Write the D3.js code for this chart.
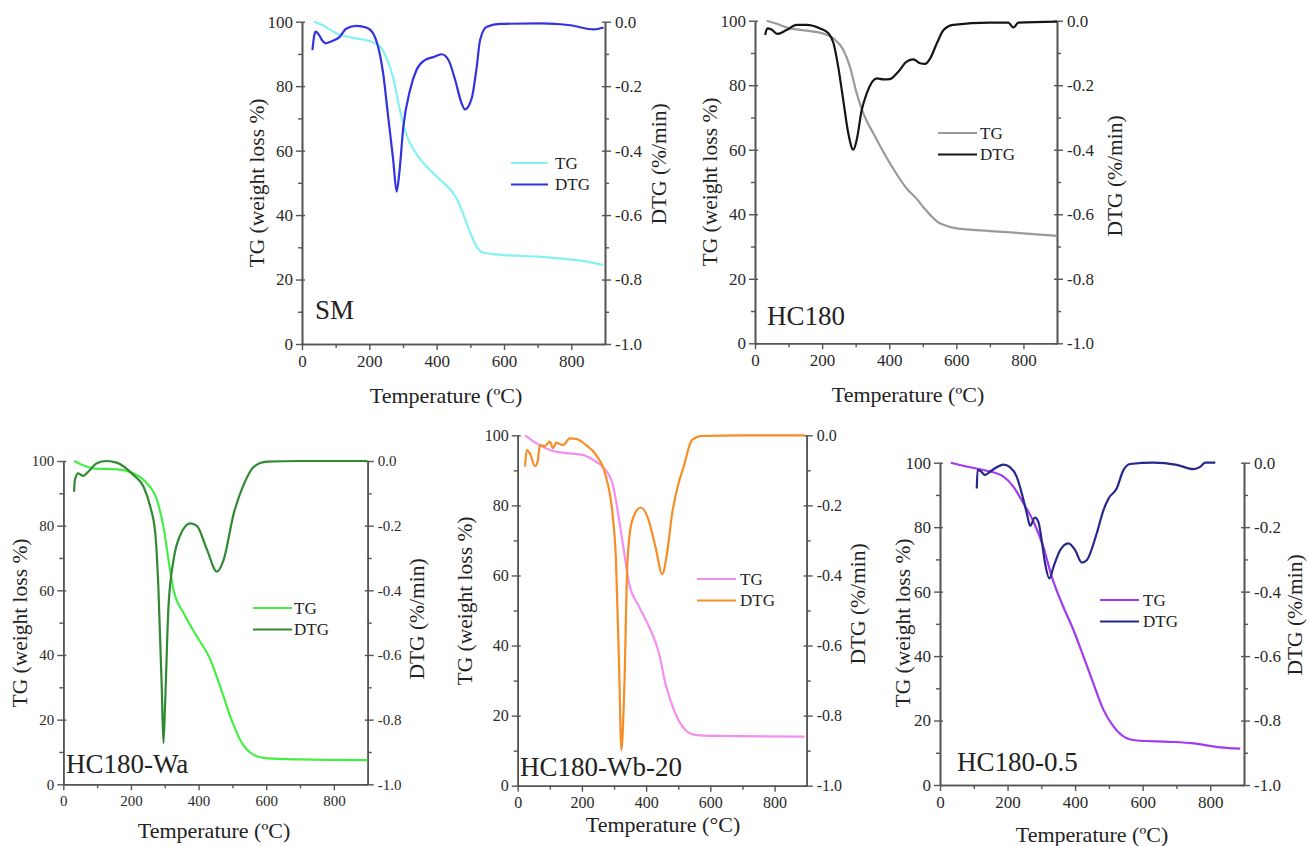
<!DOCTYPE html>
<html>
<head>
<meta charset="utf-8">
<title>TG / DTG curves</title>
<script src="https://d3js.org/d3.v7.min.js"></script>
<style>
  body { margin: 0; background: #fff; }
  svg { font-family: "Liberation Serif", "Times New Roman", serif; }
  .domain { stroke: #555; stroke-width: 1.6px; }
  .tick line { stroke: #555; stroke-width: 1.4px; }
  .tick text { fill: #2a2a2a; font-family: "Liberation Serif", serif; }
  .title { fill: #222; }
</style>
</head>
<body>
<div id="chart"></div>
<script>
// tick values shared by all panels
var xTicks = [0, 200, 400, 600, 800];
var xMinor = [100, 300, 500, 700];
var tgTicks = [0, 20, 40, 60, 80, 100];
var tgMinor = [10, 30, 50, 70, 90];
var dtgTicks = [-1.0, -0.8, -0.6, -0.4, -0.2, 0.0];
var dtgMinor = [-0.9, -0.7, -0.5, -0.3, -0.1];
var seriesNames = ["TG", "DTG"];
var sampleNames = ["SM", "HC180", "HC180-Wa", "HC180-Wb-20", "HC180-0.5"];

// [temperature, value]
var smTG = [[35,100],[60,99],[100,96.5],[150,95],[200,94],[230,92.5],[250,89],[270,83],[290,73],[310,65],[340,59],[380,54],[410,51],[440,48],[460,45],[480,40],[500,34.5],[520,30],[540,28.3],[600,27.6],[700,27.1],[800,26.2],[850,25.5],[895,24.5]];
var smDTG = [[31,-0.088],[36,-0.045],[41,-0.031],[50,-0.04],[60,-0.058],[70,-0.067],[90,-0.06],[112,-0.047],[132,-0.021],[162,-0.013],[191,-0.018],[211,-0.036],[226,-0.078],[241,-0.16],[256,-0.295],[271,-0.43],[281,-0.527],[289,-0.47],[301,-0.326],[321,-0.212],[340,-0.15],[365,-0.119],[390,-0.11],[415,-0.101],[435,-0.119],[455,-0.181],[474,-0.253],[484,-0.272],[504,-0.238],[519,-0.14],[529,-0.057],[549,-0.016],[589,-0.007],[708,-0.005],[767,-0.008],[797,-0.011],[867,-0.024],[896,-0.018]];

var hcTG = [[35,100],[60,99.2],[104,97.6],[154,96.9],[204,96],[234,94.5],[263,91],[283,85.7],[303,77.5],[323,71.3],[353,65],[402,55.8],[452,48],[480,45],[502,42.2],[525,39.5],[542,37.8],[560,36.8],[601,35.6],[700,34.8],[800,34.1],[900,33.3]];
var hcDTG = [[30,-0.044],[37,-0.024],[50,-0.028],[67,-0.041],[94,-0.029],[124,-0.013],[154,-0.013],[194,-0.024],[219,-0.039],[234,-0.07],[248,-0.143],[263,-0.246],[278,-0.349],[293,-0.4],[303,-0.37],[318,-0.277],[333,-0.225],[363,-0.179],[383,-0.182],[402,-0.181],[427,-0.158],[452,-0.127],[472,-0.12],[492,-0.132],[507,-0.134],[522,-0.117],[542,-0.07],[562,-0.029],[591,-0.013],[700,-0.006],[755,-0.006],[770,-0.021],[785,-0.006],[900,-0.003]];

var waTG = [[32,100],[60,98.6],[89,97.7],[158,97.4],[207,96.2],[247,93.1],[277,87.9],[296,79.7],[311,69.4],[326,60.1],[356,52.9],[395,45.7],[435,38.5],[464,30.2],[494,20.9],[523,13.7],[563,9.1],[602,8],[700,7.7],[899,7.5]];
var waDTG = [[32,-0.095],[34,-0.06],[44,-0.038],[59,-0.046],[74,-0.033],[99,-0.007],[128,0],[158,-0.005],[207,-0.043],[237,-0.079],[257,-0.141],[272,-0.224],[281,-0.389],[291,-0.698],[296,-0.873],[301,-0.75],[311,-0.45],[326,-0.306],[346,-0.229],[375,-0.193],[395,-0.201],[425,-0.275],[454,-0.342],[474,-0.306],[504,-0.162],[533,-0.074],[563,-0.018],[602,-0.002],[700,0],[899,0]];

var wbTG = [[23,100],[59,97.7],[100,95.8],[151,94.9],[203,94.4],[234,93],[265,91],[295,86.3],[316,75.8],[332,66.3],[347,57.7],[378,51.1],[409,45.4],[440,37.8],[460,29.2],[491,20.6],[522,15.9],[553,14.5],[615,14.2],[893,14]];
var wbDTG = [[23,-0.089],[28,-0.042],[38,-0.052],[54,-0.088],[62,-0.075],[69,-0.028],[84,-0.031],[100,-0.018],[110,-0.037],[120,-0.021],[141,-0.028],[162,-0.009],[182,-0.01],[213,-0.028],[244,-0.056],[275,-0.118],[295,-0.222],[306,-0.356],[316,-0.67],[323,-0.898],[332,-0.72],[342,-0.356],[357,-0.242],[383,-0.206],[404,-0.232],[429,-0.318],[450,-0.396],[465,-0.337],[481,-0.223],[501,-0.137],[517,-0.089],[543,-0.013],[573,-0.002],[700,0],[893,0]];

var hc05TG = [[32,100],[89,98.6],[138,97.5],[188,95.7],[217,92.6],[247,87.4],[277,81.7],[306,73.9],[331,64.6],[365,55.3],[395,48.1],[425,39.8],[454,31.5],[484,23.3],[514,18.1],[553,14.5],[583,13.8],[682,13.4],[751,12.9],[830,11.7],[889,11.3]];
var hc05DTG = [[109,-0.08],[111,-0.023],[119,-0.025],[133,-0.038],[148,-0.028],[168,-0.014],[188,-0.006],[207,-0.014],[227,-0.043],[242,-0.095],[257,-0.157],[267,-0.196],[281,-0.17],[291,-0.183],[301,-0.24],[311,-0.312],[324,-0.359],[336,-0.323],[356,-0.271],[380,-0.25],[400,-0.271],[420,-0.31],[435,-0.302],[464,-0.219],[484,-0.147],[499,-0.111],[523,-0.08],[543,-0.023],[563,-0.004],[632,0],[701,-0.007],[751,-0.02],[770,-0.013],[785,0],[815,0]];

// layout of each panel (pixel boxes measured on the figure)
var panels = [
  { name: sampleNames[0], tg: smTG, dtg: smDTG, colors: ["#84f2f2", "#3232e0"],
    left: 302, right: 605, top: 21.7, bottom: 344, tickFont: 17, deg: "º",
    xTitleX: 446, xTitleY: 403, yTitleX: 264, yTitleY: 183, rTitleX: 666, rTitleY: 164,
    leg: [511, 548, 163, 555], label: [315, 319] },
  { name: sampleNames[1], tg: hcTG, dtg: hcDTG, colors: ["#9a9a9a", "#151515"],
    left: 755, right: 1057, top: 20.7, bottom: 343.3, tickFont: 17, deg: "º",
    xTitleX: 908, xTitleY: 402, yTitleX: 717, yTitleY: 182, rTitleX: 1122, rTitleY: 176,
    leg: [938, 977, 133, 980], label: [767, 325] },
  { name: sampleNames[2], tg: waTG, dtg: waDTG, colors: ["#45ee45", "#2f8a33"],
    left: 63.3, right: 367.7, top: 461, bottom: 784.3, tickFont: 15, deg: "º",
    xTitleX: 214, xTitleY: 838, yTitleX: 27, yTitleY: 623, rTitleX: 424, rTitleY: 619,
    leg: [253, 292, 608, 294], label: [66, 773] },
  { name: sampleNames[3], tg: wbTG, dtg: wbDTG, colors: ["#f48ef0", "#f68d25"],
    left: 517.7, right: 806.7, top: 435.3, bottom: 785.7, tickFont: 16, deg: "°",
    xTitleX: 663, xTitleY: 832, yTitleX: 472, yTitleY: 601, rTitleX: 865, rTitleY: 604,
    leg: [697, 736, 579, 740], label: [520, 776] },
  { name: sampleNames[4], tg: hc05TG, dtg: hc05DTG, colors: ["#a13af2", "#27278c"],
    left: 940, right: 1244, top: 462.7, bottom: 785, tickFont: 17, deg: "º",
    xTitleX: 1092, xTitleY: 842, yTitleX: 910, yTitleY: 623, rTitleX: 1302, rTitleY: 615,
    leg: [1100, 1139, 600, 1143], label: [957, 771] }
];

var svg = d3.select("#chart")
  .append("svg")
    .attr("width", 1309)
    .attr("height", 846);

function fmt1(d) { return d.toFixed(1); }

panels.forEach(function(p) {
  var x = d3.scaleLinear().domain([0, 900]).range([p.left, p.right]);
  var yL = d3.scaleLinear().domain([0, 100]).range([p.bottom, p.top]);
  var yR = d3.scaleLinear().domain([-1, 0]).range([p.bottom, p.top]);

  var g = svg.append("g");

  // minor ticks first (no labels)
  g.append("g").attr("transform", "translate(0," + p.bottom + ")")
    .call(d3.axisBottom(x).tickValues(xMinor).tickSize(4).tickSizeOuter(0).tickFormat(""));
  g.append("g").attr("transform", "translate(" + p.left + ",0)")
    .call(d3.axisLeft(yL).tickValues(tgMinor).tickSize(4).tickSizeOuter(0).tickFormat(""));
  g.append("g").attr("transform", "translate(" + p.right + ",0)")
    .call(d3.axisRight(yR).tickValues(dtgMinor).tickSize(4).tickSizeOuter(0).tickFormat(""));

  // major axes
  var xa = g.append("g").attr("transform", "translate(0," + p.bottom + ")")
    .call(d3.axisBottom(x).tickValues(xTicks).tickSize(6).tickSizeOuter(0).tickPadding(5));
  var la = g.append("g").attr("transform", "translate(" + p.left + ",0)")
    .call(d3.axisLeft(yL).tickValues(tgTicks).tickSize(6).tickSizeOuter(0).tickPadding(3));
  var ra = g.append("g").attr("transform", "translate(" + p.right + ",0)")
    .call(d3.axisRight(yR).tickValues(dtgTicks).tickSize(6).tickSizeOuter(0).tickPadding(4).tickFormat(fmt1));
  [xa, la, ra].forEach(function(a) {
    a.selectAll(".tick text").style("font-size", p.tickFont + "px");
  });
  // let ticks cross the axis a little
  la.selectAll(".tick line").attr("x2", 3).attr("x1", -6);
  ra.selectAll(".tick line").attr("x1", -3);

  // curves
  var lineL = d3.line().x(function(d) { return x(d[0]); }).y(function(d) { return yL(d[1]); })
    .curve(d3.curveMonotoneX);
  var lineR = d3.line().x(function(d) { return x(d[0]); }).y(function(d) { return yR(d[1]); })
    .curve(d3.curveMonotoneX);

  g.append("path").datum(p.tg)
    .attr("d", lineL).attr("fill", "none")
    .attr("stroke", p.colors[0]).attr("stroke-width", 2.2);
  g.append("path").datum(p.dtg)
    .attr("d", lineR).attr("fill", "none")
    .attr("stroke", p.colors[1]).attr("stroke-width", 2.2);

  // legend
  seriesNames.forEach(function(s, i) {
    var ly = p.leg[2] + i * 21.5;
    g.append("line")
      .attr("x1", p.leg[0]).attr("x2", p.leg[1])
      .attr("y1", ly).attr("y2", ly)
      .attr("stroke", p.colors[i]).attr("stroke-width", 2.2);
    g.append("text")
      .attr("class", "title")
      .attr("x", p.leg[3]).attr("y", ly)
      .attr("dy", "0.35em")
      .style("font-size", "17px")
      .text(s);
  });

  // sample name
  g.append("text")
    .attr("class", "title")
    .attr("x", p.label[0]).attr("y", p.label[1])
    .style("font-size", "27px")
    .text(p.name);

  // axis titles
  g.append("text")
    .attr("class", "title")
    .attr("x", p.xTitleX).attr("y", p.xTitleY)
    .attr("text-anchor", "middle")
    .style("font-size", "22px")
    .text("Temperature (" + p.deg + "C)");
  g.append("text")
    .attr("class", "title")
    .attr("transform", "translate(" + p.yTitleX + "," + p.yTitleY + ") rotate(-90)")
    .attr("text-anchor", "middle")
    .style("font-size", "21.5px")
    .text("TG (weight loss %)");
  g.append("text")
    .attr("class", "title")
    .attr("transform", "translate(" + p.rTitleX + "," + p.rTitleY + ") rotate(-90)")
    .attr("text-anchor", "middle")
    .style("font-size", "21.5px")
    .text("DTG (%/min)");
});
</script>
</body>
</html>
